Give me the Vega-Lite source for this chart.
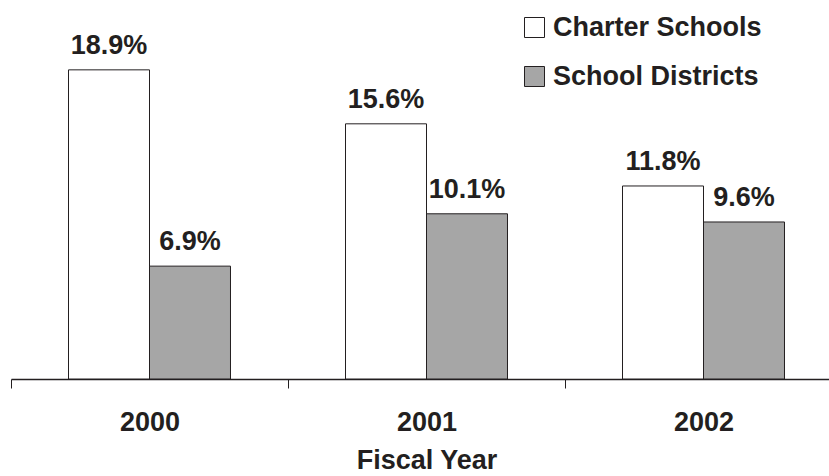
{
  "$schema": "https://vega.github.io/schema/vega-lite/v6.json",
  "autosize": "none",
  "padding": {"left": 11, "top": 0, "right": 0, "bottom": 97},
  "width": 831,
  "height": 379,
  "background": "white",
  "config": {
    "view": {"stroke": null},
    "font": "Liberation Sans",
    "text": {"font": "Liberation Sans"}
  },
  "data": {
    "values": [
      {"year": "2000", "type": "Charter Schools", "value": 18.9, "label": "18.9%"},
      {"year": "2000", "type": "School Districts", "value": 6.9, "label": "6.9%"},
      {"year": "2001", "type": "Charter Schools", "value": 15.6, "label": "15.6%"},
      {"year": "2001", "type": "School Districts", "value": 10.1, "label": "10.1%"},
      {"year": "2002", "type": "Charter Schools", "value": 11.8, "label": "11.8%"},
      {"year": "2002", "type": "School Districts", "value": 9.6, "label": "9.6%"}
    ]
  },
  "encoding": {
    "x": {
      "field": "year", "type": "nominal",
      "scale": {"paddingInner": 0, "paddingOuter": 0},
      "axis": {
        "title": "Fiscal Year",
        "titleFont": "Liberation Sans", "titleFontSize": 27, "titleFontWeight": "bold",
        "titleColor": "#231f20", "titlePadding": 12,
        "labelAngle": 0, "labelFont": "Liberation Sans", "labelFontSize": 27,
        "labelFontWeight": "bold", "labelColor": "#231f20", "labelPadding": 21,
        "tickBand": "extent", "tickSize": 9, "tickColor": "#231f20", "tickWidth": 1,
        "domainColor": "#231f20", "domainWidth": 1.5
      }
    },
    "xOffset": {
      "field": "type", "type": "nominal",
      "sort": ["Charter Schools", "School Districts"],
      "scale": {"paddingInner": 0, "paddingOuter": 0.71}
    },
    "y": {
      "field": "value", "type": "quantitative",
      "scale": {"domain": [0, 23.17], "nice": false, "zero": true},
      "axis": null
    }
  },
  "layer": [
    {
      "mark": {"type": "bar", "stroke": "#231f20", "strokeWidth": 1},
      "encoding": {
        "color": {
          "field": "type", "type": "nominal",
          "scale": {"domain": ["Charter Schools", "School Districts"], "range": ["#ffffff", "#a6a6a6"]},
          "legend": {
            "title": null, "orient": "none", "legendX": 510, "legendY": 14,
            "symbolType": "square", "symbolSize": 400,
            "symbolStrokeColor": "#231f20", "symbolStrokeWidth": 1,
            "labelFont": "Liberation Sans", "labelFontSize": 27, "labelFontWeight": "bold",
            "labelColor": "#231f20", "labelOffset": 5, "rowPadding": 21, "labelLimit": 400
          }
        }
      }
    },
    {
      "mark": {"type": "text", "baseline": "alphabetic", "dy": -16, "fontSize": 27, "fontWeight": "bold", "color": "#231f20", "font": "Liberation Sans"},
      "encoding": {
        "text": {"field": "label", "type": "nominal"},
        "detail": {"field": "type"}
      }
    }
  ]
}
